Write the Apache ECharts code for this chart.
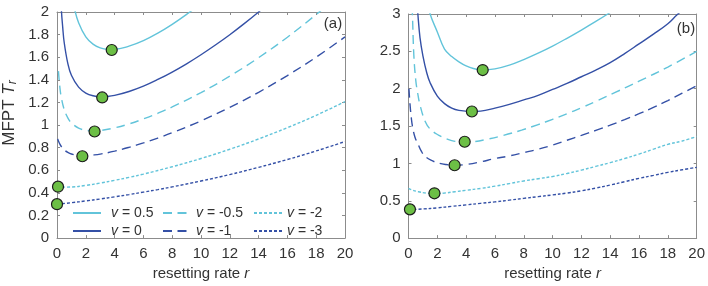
<!DOCTYPE html>
<html><head><meta charset="utf-8">
<script src="https://cdn.jsdelivr.net/npm/echarts@6/dist/echarts.min.js"></script>
<style>html,body{margin:0;padding:0;background:#fff}#c{width:708px;height:286px}</style>
</head><body><div id="c"></div>
<script>
// ---------- data: panel (a) ----------
const xTicks = [0,2,4,6,8,10,12,14,16,18,20];
const names = ['v = 0.5','v = 0','v = -0.5','v = -1','v = -2','v = -3'];

const A_R_P05 = [1.0,1.2,1.5,2,2.5,3,3.5,4,5,6,7,8,9,10];
const A_T_P05 = [2.167,2.036,1.905,1.780,1.716,1.683,1.671,1.671,1.698,1.747,1.813,1.891,1.979,2.076];
const A_R_0 = [0.2,0.3,0.4,0.5,0.75,1,1.5,2,2.5,3,3.5,4,5,6,7,8,9,10,11,12,13,14,15];
const A_T_0 = [2.40,2.03,1.86,1.73,1.545,1.44,1.335,1.283,1.259,1.251,1.253,1.262,1.297,1.344,1.403,1.469,1.542,1.622,1.708,1.799,1.897,2.0,2.11];
const A_R_M05 = [0.1,0.2,0.3,0.5,0.75,1,1.5,2,2.5,3,4,5,6,7,8,10,12,14,16,18,19];
const A_T_M05 = [1.477,1.332,1.243,1.137,1.063,1.019,0.973,0.954,0.949,0.952,0.975,1.010,1.054,1.104,1.160,1.287,1.433,1.596,1.777,1.978,2.086];
const A_R_M1 = [0.05,0.1,0.2,0.3,0.5,0.75,1,1.5,2,2.5,3,4,5,6,7,8,10,12,14,16,18,20];
const A_T_M1 = [0.878,0.859,0.831,0.810,0.780,0.758,0.744,0.731,0.730,0.735,0.743,0.769,0.803,0.842,0.885,0.932,1.037,1.157,1.290,1.438,1.601,1.780];
const A_R_M2 = [0,1,2,3,4,5,6,8,10,12,14,16,18,20];
const A_T_M2 = [0.45,0.452,0.466,0.487,0.511,0.537,0.566,0.631,0.704,0.786,0.877,0.977,1.086,1.207];
const A_R_M3 = [0,1,2,3,4,5,6,7,8,10,12,14,16,18,20];
const A_T_M3 = [0.3,0.313,0.329,0.346,0.365,0.385,0.407,0.429,0.453,0.505,0.562,0.626,0.695,0.771,0.854];
const A_DOT_R = [3.8,3.14,2.61,1.76,0.07,0.0];
const A_DOT_T = [1.664,1.244,0.943,0.724,0.455,0.30];

// ---------- data: panel (b) ----------
const B_R_P05 = [1.2,1.5,2,2.5,3,3.5,4,4.5,5.15,6,7,8,9,10,11,12,13,14];
const B_T_P05 = [3.25,3.0,2.76,2.53,2.43,2.36,2.305,2.27,2.25,2.265,2.315,2.39,2.475,2.57,2.675,2.785,2.9,3.02];
const B_R_0 = [0.5,0.65,0.8,1,1.27,1.5,2,2.5,3,3.5,4.4,5,6,7,8,9,10,11,12,13,14,15,16,17,18,18.7,19.5];
const B_T_0 = [3.4,3.0,2.68,2.44,2.21,2.08,1.9,1.8,1.74,1.71,1.695,1.70,1.74,1.79,1.85,1.91,1.99,2.07,2.16,2.25,2.35,2.47,2.6,2.73,2.87,3.0,3.12];
const B_R_M05 = [0.2,0.27,0.37,0.5,0.62,0.8,1.16,1.5,2.08,2.5,3,3.9,4.5,5.5,6.5,7.85,9,10,11,12,13,14.35,16,18,20];
const B_T_M05 = [3.3,3.0,2.45,2.12,1.96,1.78,1.56,1.46,1.378,1.34,1.305,1.285,1.29,1.325,1.37,1.445,1.52,1.59,1.665,1.745,1.83,1.95,2.1,2.29,2.5];
const B_R_M1 = [0.03,0.1,0.2,0.28,0.45,0.69,0.9,1.16,1.6,2.08,2.6,3.2,4,5,6,7,8,9,10,11,12,13,14,15,16,17,18,19,20];
const B_T_M1 = [2.0,1.8,1.6,1.49,1.35,1.246,1.16,1.093,1.04,1.004,0.985,0.975,0.985,1.02,1.065,1.10,1.145,1.19,1.245,1.31,1.375,1.442,1.512,1.586,1.665,1.75,1.84,1.94,2.04];
const B_R_M2 = [0,0.3,0.69,1.2,1.8,2.5,3.23,4,5,6,7,8,9,10,11,12,13,14,15,16,17,18,19,20];
const B_T_M2 = [0.665,0.64,0.621,0.603,0.595,0.603,0.621,0.64,0.665,0.695,0.73,0.765,0.795,0.825,0.865,0.91,0.96,1.01,1.065,1.125,1.19,1.255,1.30,1.36];
const B_R_M3 = [0,1,2,3,4,5,6,7,8,9,10,11,12,13,14,15,16,17,18,19,20];
const B_T_M3 = [0.38,0.39,0.405,0.425,0.445,0.465,0.485,0.508,0.532,0.555,0.578,0.603,0.633,0.67,0.71,0.755,0.8,0.84,0.88,0.915,0.947];
const B_DOT_R = [5.15,4.4,3.9,3.2,1.8,0.1];
const B_DOT_T = [2.25,1.695,1.29,0.975,0.6,0.385];

// ---------- styles ----------
const LIGHT = '#62c4da', DARK = '#3450a6';
const FONT = 'Liberation Sans, Arial, Helvetica, sans-serif';
const AXC = '#8c8c8c', TXT = '#333';
const FS = 15;
const styles = [
  {color: LIGHT, type: 'solid'},
  {color: DARK, type: 'solid'},
  {color: LIGHT, type: [9, 5.5]},
  {color: DARK, type: [9, 5.5]},
  {color: LIGHT, type: [3, 2]},
  {color: DARK, type: [3, 2]}
];
const pts = (R, T) => R.map((r, i) => [r, T[i]]);
const A_SETS = [[A_R_P05,A_T_P05],[A_R_0,A_T_0],[A_R_M05,A_T_M05],[A_R_M1,A_T_M1],[A_R_M2,A_T_M2],[A_R_M3,A_T_M3]];
const B_SETS = [[B_R_P05,B_T_P05],[B_R_0,B_T_0],[B_R_M05,B_T_M05],[B_R_M1,B_T_M1],[B_R_M2,B_T_M2],[B_R_M3,B_T_M3]];

const grids = [
  {left: 57, top: 12, width: 288, height: 228},
  {left: 408.5, top: 14, width: 288.5, height: 227}
];
function xAx(g, pos, labels) {
  return {type: 'value', gridIndex: g, position: pos, min: 0, max: 20, interval: 2,
    axisLine: {show: true, onZero: false, lineStyle: {color: AXC, width: 1}},
    axisTick: {show: true, inside: true, length: 3, lineStyle: {color: AXC}},
    axisLabel: {show: labels, color: TXT, fontSize: FS, fontFamily: FONT, margin: 8},
    splitLine: {show: false},
    name: labels ? '{a|resetting rate }{i|r}' : '', nameLocation: 'middle', nameGap: 20,
    nameTextStyle: {color: TXT, fontSize: FS, fontFamily: FONT,
      rich: {a: {fontSize: FS, fontFamily: FONT, color: TXT}, i: {fontSize: FS, fontFamily: FONT, color: TXT, fontStyle: 'italic'}}}
  };
}
function yAx(g, pos, labels, max, interval) {
  return {type: 'value', gridIndex: g, position: pos, min: 0, max: max, interval: interval,
    axisLine: {show: true, onZero: false, lineStyle: {color: AXC, width: 1}},
    axisTick: {show: true, inside: true, length: 3, lineStyle: {color: AXC}},
    axisLabel: {show: labels, color: TXT, fontSize: FS, fontFamily: FONT, margin: 8},
    splitLine: {show: false}
  };
}
const series = [];
[A_SETS, B_SETS].forEach((sets, g) => {
  sets.forEach((s, i) => {
    series.push({
      type: 'line', name: names[i], xAxisIndex: g * 2, yAxisIndex: g * 2,
      data: pts(s[0], s[1]), symbol: 'none', showSymbol: false, smooth: 0.4, clip: true,
      lineStyle: {color: styles[i].color, type: styles[i].type, width: 1.4},
      itemStyle: {color: styles[i].color}, z: 2
    });
  });
});
[[A_DOT_R, A_DOT_T], [B_DOT_R, B_DOT_T]].forEach((d, g) => {
  series.push({
    type: 'scatter', xAxisIndex: g * 2, yAxisIndex: g * 2, data: pts(d[0], d[1]),
    symbol: 'circle', symbolSize: 11, clip: false, z: 5,
    itemStyle: {color: '#6cbf45', borderColor: '#1c1c1c', borderWidth: 1.2, opacity: 1}
  });
});
const legendCommon = {
  orient: 'vertical', itemWidth: 28, itemHeight: 12, itemGap: 4, padding: 0,
  itemStyle: {opacity: 0, borderWidth: 0},
  textStyle: {color: TXT, fontSize: 14, fontFamily: FONT, rich: {i: {fontStyle: 'italic', fontSize: 14, fontFamily: FONT, color: TXT}}},
  formatter: n => '{i|v}' + n.slice(1), selectedMode: false
};
const legends = [
  Object.assign({}, legendCommon, {left: 72, top: 206, data: [names[0], names[1]], textStyle: Object.assign({}, legendCommon.textStyle, {padding: [0,0,0,5]})}),
  Object.assign({}, legendCommon, {left: 162, top: 206, data: [names[2], names[3]]}),
  Object.assign({}, legendCommon, {left: 253, top: 206, data: [names[4], names[5]]})
];

const chart = echarts.init(document.getElementById('c'), null, {renderer: 'canvas'});
chart.setOption({
  animation: false,
  grid: grids,
  xAxis: [xAx(0, 'bottom', true), xAx(0, 'top', false), xAx(1, 'bottom', true), xAx(1, 'top', false)],
  yAxis: [yAx(0, 'left', true, 2, 0.2), yAx(0, 'right', false, 2, 0.2), yAx(1, 'left', true, 3, 0.5), yAx(1, 'right', false, 3, 0.5)],
  legend: legends,
  series: series,
  graphic: [
    {type: 'text', x: 9, y: 113, rotation: Math.PI / 2,
      style: {text: '{a|MFPT }{i|T}{s|r}', align: 'center', verticalAlign: 'middle',
        rich: {a: {fontSize: 17, fontFamily: FONT, fill: TXT, lineHeight: 20},
               i: {fontSize: 17, fontFamily: FONT, fill: TXT, fontStyle: 'italic', lineHeight: 20},
               s: {fontSize: 12, fontFamily: FONT, fill: TXT, fontStyle: 'italic', lineHeight: 20, verticalAlign: 'bottom', padding: [9, 0, 0, 0]}}}},
    {type: 'text', x: 333, y: 24, style: {text: '(a)', align: 'center', verticalAlign: 'middle', fontSize: 15, fontFamily: FONT, fill: TXT}},
    {type: 'text', x: 686, y: 29, style: {text: '(b)', align: 'center', verticalAlign: 'middle', fontSize: 15, fontFamily: FONT, fill: TXT}}
  ]
});
</script></body></html>
